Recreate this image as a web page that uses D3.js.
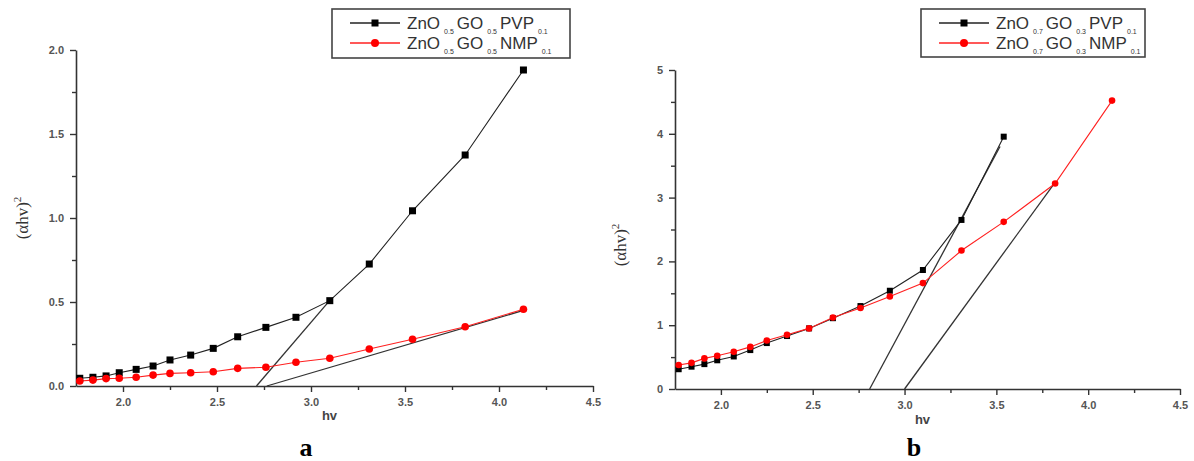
<!DOCTYPE html>
<html>
<head>
<meta charset="utf-8">
<script src="https://cdn.jsdelivr.net/npm/d3@7"></script>
<style>
  html, body { margin: 0; padding: 0; background: #fff; }
  svg { display: block; }
</style>
</head>
<body>
<svg id="chart" width="1194" height="461"></svg>
<script>
// ---------- data ----------
const hv = [1.77, 1.84, 1.91, 1.98, 2.07, 2.16, 2.25, 2.36, 2.48, 2.61, 2.76, 2.92, 3.10, 3.31, 3.54, 3.82, 4.13];

// panel a
const aPVP = [0.046, 0.052, 0.060, 0.079, 0.099, 0.119, 0.155, 0.184, 0.224, 0.293, 0.349, 0.409, 0.508, 0.726, 1.043, 1.375, 1.881];
const aNMP = [0.030, 0.035, 0.044, 0.046, 0.052, 0.065, 0.075, 0.079, 0.085, 0.105, 0.112, 0.141, 0.165, 0.220, 0.278, 0.353, 0.457];
const aFitPVP = [[2.71, 0], [3.10, 0.51]];
const aFitNMP = [[2.765, 0], [4.13, 0.45]];
const aYTicks = [0.0, 0.5, 1.0, 1.5, 2.0];

// panel b
const bPVP = [0.31, 0.35, 0.39, 0.45, 0.51, 0.61, 0.72, 0.83, 0.95, 1.11, 1.30, 1.54, 1.865, 2.65, 3.955];
const bNMP = [0.376, 0.41, 0.48, 0.52, 0.585, 0.66, 0.76, 0.85, 0.95, 1.12, 1.27, 1.45, 1.66, 2.17, 2.62, 3.22, 4.52];
const bFitPVP = [[2.81, 0], [3.52, 3.80]];
const bFitNMP = [[3.00, 0], [3.82, 3.24]];
const bYTicks = [0, 1, 2, 3, 4, 5];

const xTicks = [2.0, 2.5, 3.0, 3.5, 4.0, 4.5];
const xMinor = [2.25, 2.75, 3.25, 3.75, 4.25];

// legend labels: [base, sub] pairs
const aLegPVP = [["ZnO", "0.5"], ["GO", "0.5"], ["PVP", "0.1"]];
const aLegNMP = [["ZnO", "0.5"], ["GO", "0.5"], ["NMP", "0.1"]];
const bLegPVP = [["ZnO", "0.7"], ["GO", "0.3"], ["PVP", "0.1"]];
const bLegNMP = [["ZnO", "0.7"], ["GO", "0.3"], ["NMP", "0.1"]];

// ---------- drawing ----------
const svg = d3.select("#chart");

function panel(cfg) {
  const x = d3.scaleLinear().domain([1.75, 4.5]).range(cfg.xr);
  const y = d3.scaleLinear().domain(cfg.yd).range(cfg.yr);
  const g = svg.append("g");

  const gxm = g.append("g").attr("transform", `translate(0,${cfg.yr[0]})`)
    .call(d3.axisBottom(x).tickValues(xMinor).tickSize(4).tickFormat(""));
  gxm.select(".domain").remove();
  g.append("g").attr("transform", `translate(0,${cfg.yr[0]})`)
    .call(d3.axisBottom(x).tickValues(xTicks).tickSize(6).tickSizeOuter(0).tickPadding(6).tickFormat(d3.format(".1f")));
  const gym = g.append("g").attr("transform", `translate(${cfg.xr[0]},0)`)
    .call(d3.axisLeft(y).tickValues(cfg.yMinor).tickSize(4).tickFormat(""));
  gym.select(".domain").remove();
  g.append("g").attr("transform", `translate(${cfg.xr[0]},0)`)
    .call(d3.axisLeft(y).tickValues(cfg.yTicks).tickSize(6).tickSizeOuter(0).tickPadding(6).tickFormat(cfg.yFmt));

  g.selectAll(".domain").attr("stroke", "#333").attr("stroke-width", 1.6);
  g.selectAll(".tick line").attr("stroke", "#333").attr("stroke-width", 1.4);
  g.selectAll(".tick text").attr("font-family", "Liberation Sans, Arial, sans-serif")
    .attr("font-size", 11).attr("font-weight", "bold").attr("fill", "#555");

  const line = d3.line().x(d => x(d[0])).y(d => y(d[1]));

  [cfg.fit1, cfg.fit2].forEach(f => {
    g.append("path").attr("d", line(f)).attr("fill", "none").attr("stroke", "#333").attr("stroke-width", 1.3);
  });

  const ptsBlack = cfg.black.map((v, i) => [hv[i], v]);
  const ptsRed = cfg.red.map((v, i) => [hv[i], v]);
  g.append("path").attr("d", line(ptsBlack)).attr("fill", "none").attr("stroke", "#222").attr("stroke-width", 1.1);
  g.append("path").attr("d", line(ptsRed)).attr("fill", "none").attr("stroke", "#ff2020").attr("stroke-width", 1.1);
  const s = cfg.mk;
  g.selectAll(".sq").data(ptsBlack).enter().append("rect")
    .attr("x", d => x(d[0]) - s / 2).attr("y", d => y(d[1]) - s / 2)
    .attr("width", s).attr("height", s).attr("fill", "#000");
  g.selectAll(".ci").data(ptsRed).enter().append("circle")
    .attr("cx", d => x(d[0])).attr("cy", d => y(d[1])).attr("r", s / 2 + 0.3).attr("fill", "#ff0000");

  g.append("text").attr("x", (cfg.xr[0] + cfg.xr[1]) / 2 - 5).attr("y", cfg.hvY)
    .attr("text-anchor", "middle").attr("font-family", "Liberation Sans, Arial, sans-serif")
    .attr("font-size", 13).attr("font-weight", "bold").attr("fill", "#444").text("hv");
  const yt = g.append("text").attr("transform", `translate(${cfg.ytX},${cfg.ytY}) rotate(-90)`)
    .attr("text-anchor", "middle").attr("font-family", "Liberation Serif, Times New Roman, serif")
    .attr("font-size", 17).attr("fill", "#333");
  yt.append("tspan").text("(αhv)");
  yt.append("tspan").attr("font-size", 11).attr("dy", -7).text("2");

  g.append("text").attr("x", cfg.letX).attr("y", 456).attr("text-anchor", "middle")
    .attr("font-family", "Liberation Serif, Times New Roman, serif").attr("font-size", 26)
    .attr("font-weight", "bold").attr("fill", "#000").text(cfg.letter);

  const L = cfg.leg;
  g.append("rect").attr("x", L.x).attr("y", L.y).attr("width", L.w).attr("height", L.h)
    .attr("fill", "#fff").attr("stroke", "#444").attr("stroke-width", 1.6);
  [[cfg.legBlack, "#222", "sq", 0], [cfg.legRed, "#ff2020", "ci", 1]].forEach(([lab, col, kind, i]) => {
    const ry = L.y + 14 + i * 20;
    g.append("line").attr("x1", L.x + 18).attr("x2", L.x + 68).attr("y1", ry).attr("y2", ry)
      .attr("stroke", col).attr("stroke-width", 1.3);
    if (kind === "sq") {
      g.append("rect").attr("x", L.x + 43 - 3.5).attr("y", ry - 3.5).attr("width", 7).attr("height", 7).attr("fill", "#000");
    } else {
      g.append("circle").attr("cx", L.x + 43).attr("cy", ry).attr("r", 4).attr("fill", "#ff0000");
    }
    const t = g.append("text").attr("x", L.x + 75).attr("y", ry + 6)
      .attr("font-family", "Liberation Sans, Arial, sans-serif").attr("font-size", 17).attr("fill", "#333");
    lab.forEach(([base, sub], k) => {
      t.append("tspan").attr("dx", k === 0 ? 0 : 3).attr("dy", k === 0 ? 0 : -5).text(base);
      t.append("tspan").attr("font-size", 7).attr("dx", 4).attr("dy", 5).text(sub);
    });
  });
}

panel({
  xr: [76, 593], yd: [0, 2], yr: [386, 50],
  yTicks: aYTicks, yMinor: [0.25, 0.75, 1.25, 1.75], yFmt: d3.format(".1f"),
  black: aPVP, red: aNMP, fit1: aFitPVP, fit2: aFitNMP, mk: 7,
  hvY: 420, ytX: 28, ytY: 218, letX: 306, letter: "a",
  leg: { x: 332, y: 9, w: 238, h: 49 },
  legBlack: aLegPVP, legRed: aLegNMP
});

panel({
  xr: [675, 1180], yd: [0, 5], yr: [389, 70],
  yTicks: bYTicks, yMinor: [0.5, 1.5, 2.5, 3.5, 4.5], yFmt: d3.format("d"),
  black: bPVP, red: bNMP, fit1: bFitPVP, fit2: bFitNMP, mk: 6,
  hvY: 424, ytX: 626, ytY: 245, letX: 914, letter: "b",
  leg: { x: 921, y: 9, w: 224, h: 48 },
  legBlack: bLegPVP, legRed: bLegNMP
});
</script>
</body>
</html>
